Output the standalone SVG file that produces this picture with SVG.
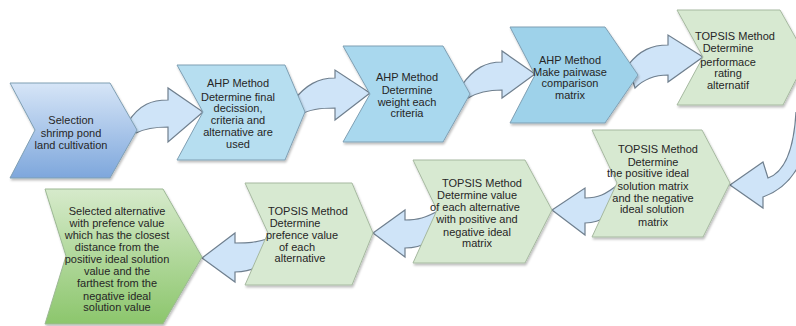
<svg xmlns="http://www.w3.org/2000/svg" width="796" height="326" viewBox="0 0 796 326">
<defs>
<linearGradient id="gBlue" x1="0" y1="0" x2="0" y2="1"><stop offset="0" stop-color="#d6e5f7"/><stop offset="1" stop-color="#7ea7dc"/></linearGradient>
<linearGradient id="gGreen" x1="0" y1="0" x2="0" y2="1"><stop offset="0" stop-color="#d6eacb"/><stop offset="1" stop-color="#8cc66c"/></linearGradient>
<filter id="sh" x="-10%" y="-10%" width="130%" height="130%"><feDropShadow dx="1" dy="2" stdDeviation="1" flood-color="#000" flood-opacity="0.25"/></filter>
</defs>
<style>
.n{stroke-width:1;filter:url(#sh)}
.b{stroke:#7f9fb3}
.g{stroke:#a6b9a0;fill:#d7e9d1}
.c path{fill:#cfe4f8;stroke:#6f7f8e;stroke-width:1.2;stroke-linejoin:miter}
text{font-family:"Liberation Sans",Arial,sans-serif;font-size:11px;fill:#262626;text-anchor:middle}
</style>
<rect width="796" height="326" fill="#fff"/>
<g id="connectors" class="c">
<path d="M128,122 C140,104 152,100 168,100 L168,88 L203,112 L168,142 L168,127 C156,127 146,128 136,133 Z"/>
<path d="M294,100 C306,85 318,78 335,78 L335,70 L370,93 L335,120 L335,108 C320,108 310,109 302,114 Z"/>
<path d="M462,85 C474,68 486,62 502,62 L502,51 L535,74 L502,98 L502,90 C488,90 478,92 468,98 Z"/>
<path d="M628,65 C640,50 652,45 668,45 L668,35 L703,57 L668,82 L668,75 C655,75 643,80 635,88 Z"/>
<path d="M796,112 C794,148 785,172 768,178 L763,162 L730,185 L763,208 L763,197 C782,190 794,178 802,158 Z"/>
<path d="M620,183 C605,195 598,198 585,198 L585,188 L552,210 L585,235 L585,223 C595,223 600,220 610,215 Z"/>
<path d="M440,210 C425,218 418,220 405,220 L405,210 L373,233 L405,257 L405,248 C415,248 420,246 430,242 Z"/>
<path d="M270,238 C255,243 248,243 235,243 L235,233 L202,258 L235,282 L235,272 C245,272 250,270 258,267 Z"/>
</g>
<g id="n1">
<path class="n b" fill="url(#gBlue)" d="M10,83 L110,83 L137,130 L110,178 L10,178 L35,130 Z"/>
<text x="71" y="124">Selection</text>
<text x="71" y="137">shrimp pond</text>
<text x="71" y="149">land cultivation</text>
</g>
<g id="n2">
<path class="n b" fill="#b6def0" d="M177,65 L285,65 L305,112 L285,160 L177,160 L203,112 Z"/>
<text x="238" y="87">AHP Method</text>
<text x="238" y="101">Determine final</text>
<text x="238" y="112">decission,</text>
<text x="238" y="124">criteria and</text>
<text x="238" y="136">alternative are</text>
<text x="238" y="148">used</text>
</g>
<g id="n3">
<path class="n b" fill="#a9d8ee" d="M343,46 L443,46 L470,94 L443,142 L343,142 L370,94 Z"/>
<text x="407" y="81">AHP Method</text>
<text x="407" y="94">Determine</text>
<text x="407" y="106">weight each</text>
<text x="407" y="117">criteria</text>
</g>
<g id="n4">
<path class="n b" fill="#9ed2ea" d="M510,27 L605,27 L638,75 L605,123 L510,123 L535,75 Z"/>
<text x="570" y="64">AHP Method</text>
<text x="570" y="76">Make pairwase</text>
<text x="570" y="87">comparison</text>
<text x="570" y="99">matrix</text>
</g>
<g id="n5">
<path class="n g" d="M677,10 L780,10 L807,58 L783,105 L677,105 L703,57 Z"/>
<text x="735" y="40">TOPSIS Method</text>
<text x="728" y="52">Determine</text>
<text x="728" y="66">performace</text>
<text x="728" y="77">rating</text>
<text x="728" y="89">alternatif</text>
</g>
<g id="n6">
<path class="n g" d="M592,130 L702,130 L730,183 L703,237 L592,237 L617,183 Z"/>
<text x="658" y="153">TOPSIS Method</text>
<text x="653" y="166">Determine</text>
<text x="648" y="177">the positive ideal</text>
<text x="653" y="190">solution matrix</text>
<text x="653" y="202">and the negative</text>
<text x="652" y="213">ideal solution</text>
<text x="653" y="226">matrix</text>
</g>
<g id="n7">
<path class="n g" d="M413,160 L525,160 L552,210 L525,263 L413,263 L437,210 Z"/>
<text x="482" y="187">TOPSIS Method</text>
<text x="477" y="199">Determine value</text>
<text x="475" y="211">of each alternative</text>
<text x="477" y="223">with positive and</text>
<text x="477" y="236">negative ideal</text>
<text x="477" y="247">matrix</text>
</g>
<g id="n8">
<path class="n g" d="M245,183 L352,183 L373,233 L352,285 L245,285 L268,233 Z"/>
<text x="308" y="215">TOPSIS Method</text>
<text x="295" y="227">Determine</text>
<text x="302" y="239">prefence value</text>
<text x="297" y="251">of each</text>
<text x="300" y="262">alternative</text>
</g>
<g id="n9">
<path class="n" stroke="#9cb894" fill="url(#gGreen)" d="M45,189 L163,189 L202,257 L163,324 L45,324 L66,256 Z"/>
<text x="117" y="215">Selected alternative</text>
<text x="117" y="227">with prefence value</text>
<text x="117" y="239">which has the closest</text>
<text x="117" y="251">distance from the</text>
<text x="117" y="263">positive ideal solution</text>
<text x="117" y="275">value and the</text>
<text x="117" y="287">farthest from the</text>
<text x="117" y="300">negative ideal</text>
<text x="117" y="311">solution value</text>
</g>
</svg>
